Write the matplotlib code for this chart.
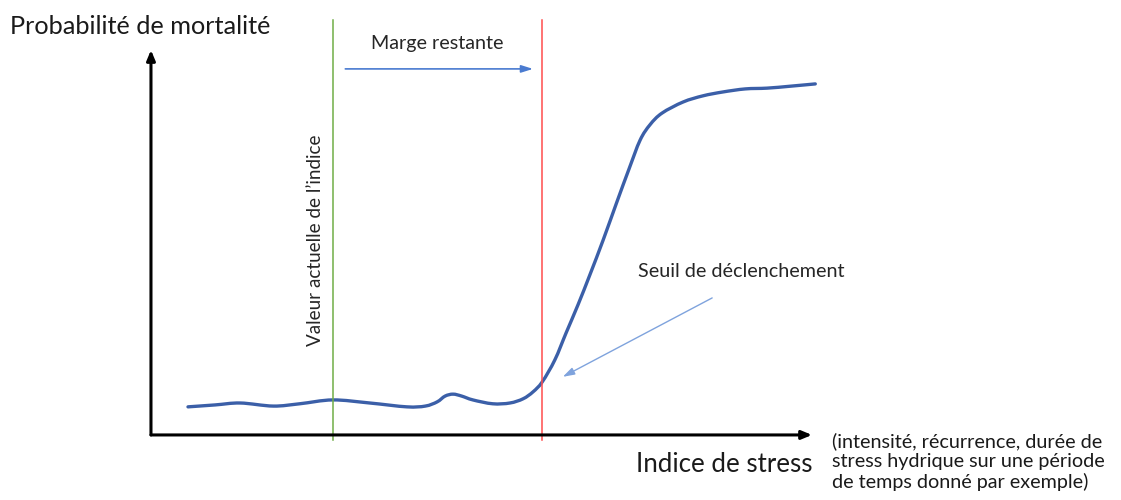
import matplotlib.pyplot as plt
from matplotlib.path import Path
from matplotlib.patches import PathPatch

plt.rcParams['font.family'] = ['Lato', 'DejaVu Sans']

# mortality probability vs stress index (hand-drawn style curve)
stress = [5.6, 9.7, 13.5, 18.5, 22.5, 27.5, 33.1, 38.7, 41.5, 43.3, 44.5, 45.7,
          47.0, 48.7, 51.7, 54.3, 56.3, 57.8, 59.2, 61.1, 62.8, 64.6, 66.4, 68.4,
          70.5, 72.3, 74.0, 75.5, 77.3, 80.5, 83.5, 86.5, 89.9, 93.2, 96.7, 100.5]
mortality = [0.073, 0.078, 0.083, 0.075, 0.081, 0.091, 0.083, 0.073, 0.075, 0.086,
             0.101, 0.106, 0.101, 0.091, 0.081, 0.083, 0.094, 0.112, 0.138, 0.195,
             0.265, 0.338, 0.416, 0.506, 0.606, 0.690, 0.766, 0.806, 0.836, 0.865,
             0.881, 0.891, 0.899, 0.901, 0.906, 0.912]

current_index = 27.5
threshold = 59.2


def smooth_path(xs, ys):
    # Catmull-Rom through the points, drawn as cubic bezier segments
    verts = [(xs[0], ys[0])]
    codes = [Path.MOVETO]
    n = len(xs)
    for i in range(n - 1):
        x0, y0 = (xs[i - 1], ys[i - 1]) if i > 0 else (xs[i], ys[i])
        x1, y1 = xs[i], ys[i]
        x2, y2 = xs[i + 1], ys[i + 1]
        x3, y3 = (xs[i + 2], ys[i + 2]) if i + 2 < n else (x2, y2)
        c1 = (x1 + (x2 - x0) / 6, y1 + (y2 - y0) / 6)
        c2 = (x2 - (x3 - x1) / 6, y2 - (y3 - y1) / 6)
        verts += [c1, c2, (x2, y2)]
        codes += [Path.CURVE4] * 3
    return Path(verts, codes)


fig = plt.figure(figsize=(11.21, 5), dpi=100)
ax = fig.add_axes([0, 0, 1, 1])
ax.set_xlim(-22.84, 146.75)
ax.set_ylim(-0.169, 1.130)
ax.axis('off')

# axes arrows
ax.annotate('', xy=(100, 0), xytext=(0, 0),
            arrowprops=dict(arrowstyle='-|>,head_length=0.6,head_width=0.25', color='black', lw=2.2,
                            shrinkA=0, shrinkB=0))
ax.annotate('', xy=(0, 1.0), xytext=(0, 0),
            arrowprops=dict(arrowstyle='-|>,head_length=0.6,head_width=0.25', color='black', lw=2.2,
                            shrinkA=0, shrinkB=0))

# current index and threshold
ax.plot([current_index, current_index], [-0.013, 1.078], color='#70AD47', lw=1.1)
ax.plot([threshold, threshold], [-0.013, 1.078], color='#FF4D4D', lw=1.1)

ax.add_patch(PathPatch(smooth_path(stress, mortality), facecolor='none', edgecolor='#3B5FA8',
                       lw=2.4, capstyle='round', joinstyle='round'))

# remaining margin arrow
ax.annotate('', xy=(57.8, 0.951), xytext=(29.4, 0.951),
            arrowprops=dict(arrowstyle='-|>,head_length=0.7,head_width=0.22', color='#4A7BD0', lw=1.2,
                            shrinkA=0, shrinkB=0))
ax.text(43.3, 1.016, 'Marge restante', ha='center', va='center', fontsize=14.2, color='#262626')

# trigger threshold arrow
ax.annotate('', xy=(62.3, 0.151), xytext=(84.9, 0.356),
            arrowprops=dict(arrowstyle='-|>,head_length=0.7,head_width=0.22', color='#7FA3DD', lw=1.0,
                            shrinkA=0, shrinkB=0))
ax.text(73.7, 0.424, 'Seuil de déclenchement', ha='left', va='center', fontsize=14.2, color='#262626')

ax.text(24.9, 0.506, "Valeur actuelle de l\u2019indice", rotation=90, ha='center', va='center',
        fontsize=13.6, color='#262626')

fig.text(10 / 1121, 1 - 27 / 500, 'Probabilité de mortalité', ha='left', va='center',
         fontsize=18.2, color='#1a1a1a')
fig.text(813 / 1121, 1 - 465 / 500, 'Indice de stress', ha='right', va='center',
         fontsize=18.6, color='#1a1a1a')
fig.text(832 / 1121, 1 - 462 / 500,
         '(intensité, récurrence, durée de\nstress hydrique sur une période\nde temps donné par exemple)',
         ha='left', va='center', fontsize=14.2, color='#1a1a1a', linespacing=1.2)

fig.savefig('out.png', dpi=100, facecolor='white')
